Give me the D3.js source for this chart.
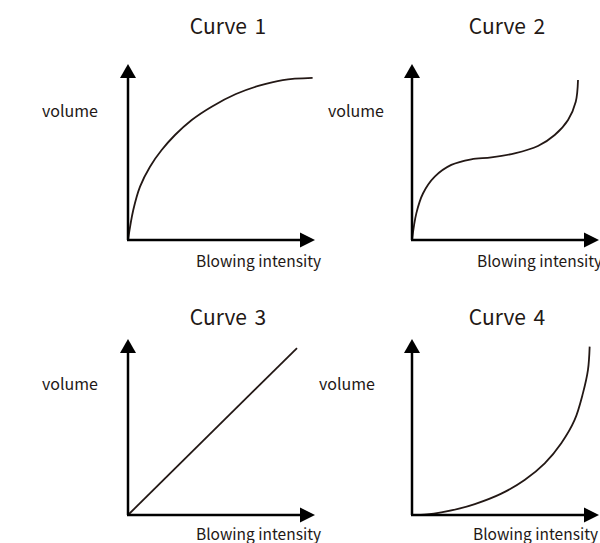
<!DOCTYPE html>
<html>
<head>
<meta charset="utf-8">
<script src="https://cdn.jsdelivr.net/npm/d3@7"></script>
<style>
  body { margin: 0; background: #fff; }
  svg { display: block; }
  text { font-family: "Noto Sans CJK SC", "Noto Sans", sans-serif; fill: #231815; }
</style>
</head>
<body>
<div id="chart"></div>
<script>
// chart texts
var titles = ["Curve 1", "Curve 2", "Curve 3", "Curve 4"];
var yLabel = "volume";
var xLabel = "Blowing intensity";

// curve points, [intensity, volume] in 0-100 units
var curve1 = [[0,0],[2.8,17.1],[6.4,30.5],[11.7,41.9],[17.9,51.4],[25,60],[33.9,68.6],[44.5,76.2],[57.4,83.4],[69.8,88.2],[82.3,91.4],[98.2,92.6]];
var curve2 = [[0,0],[2.3,15.2],[5.9,26.7],[12.1,36.2],[20.9,42.9],[31.5,46.1],[42.2,47.2],[54.6,49.5],[67,53.7],[75.9,60],[83,68.6],[87.1,79],[88.3,91.4]];
var curve3 = [[0,0],[89.9,95.4]];
var curve4 = [[0,0],[8,0.4],[15.6,1.5],[25,3.6],[33.4,6.2],[47.5,12.2],[59.9,20],[70.6,29.5],[79.4,41],[86.5,54.3],[90.9,69.5],[93.6,82.9],[94.5,96.2]];

var curves = [curve1, curve2, curve3, curve4];

var width = 600, height = 543;

var svg = d3.select("#chart").append("svg")
    .attr("width", width)
    .attr("height", height);

// where each small chart sits (origin of axes, title, labels)
var panels = [
    {ox: 128, oy: 240, tx: 228, ty: 34,  vx: 42,  vy: 117, bx: 196, by: 267},
    {ox: 412, oy: 240, tx: 507, ty: 34,  vx: 328, vy: 117, bx: 477, by: 267},
    {ox: 128, oy: 515, tx: 228, ty: 325, vx: 42,  vy: 390, bx: 196, by: 540},
    {ox: 412, oy: 515, tx: 507, ty: 325, vx: 319, vy: 390, bx: 473, by: 540}
];
var axisW = 188, axisH = 175;

panels.forEach(function(p, i){
    var g = svg.append("g");

    var xScale = d3.scaleLinear().domain([0,100]).range([p.ox, p.ox + axisW]);
    var yScale = d3.scaleLinear().domain([0,100]).range([p.oy, p.oy - axisH]);

    //curve
    var line = d3.line()
        .x(function(d){ return xScale(d[0]); })
        .y(function(d){ return yScale(d[1]); })
        .curve(d3.curveCatmullRom.alpha(0.5));

    g.append("path")
        .datum(curves[i])
        .attr("d", line)
        .attr("fill", "none")
        .attr("stroke", "#231815")
        .attr("stroke-width", 1.8);

    //axes lines
    g.append("line")
        .attr("x1", p.ox).attr("y1", p.oy)
        .attr("x2", p.ox).attr("y2", yScale(100) + 12)
        .attr("stroke", "#000").attr("stroke-width", 2.5);
    g.append("line")
        .attr("x1", p.ox - 1).attr("y1", p.oy)
        .attr("x2", xScale(100) - 12).attr("y2", p.oy)
        .attr("stroke", "#000").attr("stroke-width", 2.5);

    //arrow heads
    var top = yScale(100) - 1, right = xScale(100) - 1;
    g.append("path")
        .attr("d", "M" + p.ox + "," + top + "L" + (p.ox - 8) + "," + (top + 14) + "L" + (p.ox + 8) + "," + (top + 14) + "Z")
        .attr("fill", "#000");
    g.append("path")
        .attr("d", "M" + right + "," + p.oy + "L" + (right - 15) + "," + (p.oy - 7.5) + "L" + (right - 15) + "," + (p.oy + 7.5) + "Z")
        .attr("fill", "#000");

    //texts
    g.append("text")
        .attr("x", p.tx).attr("y", p.ty)
        .attr("text-anchor", "middle")
        .style("font-size", "21px")
        .style("word-spacing", "3px")
        .text(titles[i]);
    g.append("text")
        .attr("x", p.vx).attr("y", p.vy)
        .style("font-size", "16px")
        .text(yLabel);
    g.append("text")
        .attr("x", p.bx).attr("y", p.by)
        .style("font-size", "15.5px")
        .text(xLabel);
});
</script>
</body>
</html>
